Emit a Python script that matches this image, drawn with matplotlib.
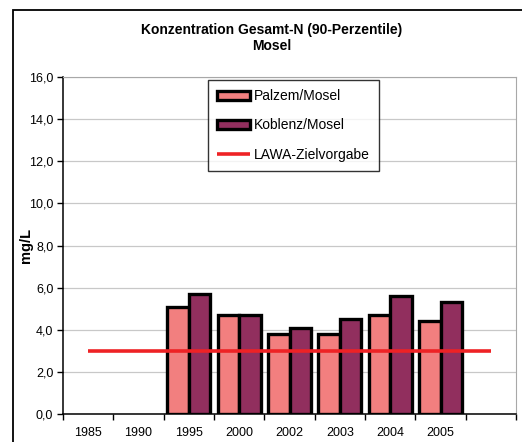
"""
Konzentration Gesamt-N (90-Perzentile), Mosel
"""
import numpy as np
import matplotlib
matplotlib.use("Agg")
from matplotlib import pyplot as plt, patches, ticker

plt.rcParams["font.family"] = ["Liberation Sans", "DejaVu Sans"]

YEARS = ["1985", "1990", "1995", "2000", "2002", "2003", "2004", "2005", ""]
PALZEM = [np.nan, np.nan, 5.1, 4.7, 3.8, 3.8, 4.7, 4.4, np.nan]
KOBLENZ = [np.nan, np.nan, 5.7, 4.7, 4.1, 4.5, 5.6, 5.3, np.nan]
LAWA = [3.0] * len(YEARS)

PALZEM_COLOR = "#F27F7F"
KOBLENZ_COLOR = "#912F5E"
LAWA_COLOR = "#EE2225"

fig = plt.figure(figsize=(5.22, 4.42), dpi=100)
ax = fig.add_axes([63/522, 1 - 414/442, 453/522, 337/442])

# Outer chart frame (cut off at right/bottom like the reference)
fig.patches.append(patches.Rectangle((13/522, -0.05), 1.2, 1.05 - 10/442,
                                     transform=fig.transFigure, fill=False,
                                     edgecolor="black", linewidth=1.3))

x = np.arange(len(YEARS))
w = 0.43
b1 = ax.bar(x - w/2, PALZEM, w, color=PALZEM_COLOR, edgecolor="black",
            linewidth=2.4, label="Palzem/Mosel", zorder=3)
b2 = ax.bar(x + w/2, KOBLENZ, w, color=KOBLENZ_COLOR, edgecolor="black",
            linewidth=2.4, label="Koblenz/Mosel", zorder=3)
l1, = ax.plot(x, LAWA, color=LAWA_COLOR, linewidth=2.6, label="LAWA-Zielvorgabe",
              zorder=4, solid_capstyle="butt")

ax.set_xlim(-0.5, len(YEARS) - 0.5)
ax.set_ylim(0, 16)
ax.set_yticks(np.arange(0, 17, 2))
ax.yaxis.set_major_formatter(ticker.FuncFormatter(lambda v, p: ("%.1f" % v).replace(".", ",")))
ax.set_xticks(x)
ax.set_xticklabels(YEARS)
ax.set_xticks(np.arange(-0.5, len(YEARS)), minor=True)
ax.tick_params(axis="x", which="major", length=0, labelsize=9, pad=9)
ax.tick_params(axis="x", which="minor", length=4, width=1, direction="out")
ax.tick_params(axis="y", length=4, width=1, labelsize=9, pad=3)
ax.grid(axis="y", color="#C8C8C8", linewidth=0.9, zorder=0)

for side in ["top", "right"]:
    ax.spines[side].set_color("#A8A8A8")
for side in ["left", "bottom"]:
    ax.spines[side].set_linewidth(1.1)

ax.set_ylabel("mg/L", fontsize=10.5, fontweight="bold")
ax.yaxis.set_label_coords(-30/453, 0.5)
fig.text(272/522, 1 - 38/442, "Konzentration Gesamt-N (90-Perzentile)\nMosel",
         ha="center", va="center", fontsize=10, fontweight="bold", linespacing=1.25)

leg = ax.legend([b1, b2, l1], ["Palzem/Mosel", "Koblenz/Mosel", "LAWA-Zielvorgabe"],
                loc="upper left", bbox_to_anchor=((208 - 63)/453, (414 - 80)/337),
                fontsize=10, frameon=True, fancybox=False, edgecolor="black",
                borderpad=0.65, labelspacing=1.1, handlelength=2.35, handleheight=0.6,
                handletextpad=0.3, borderaxespad=0)
leg.get_frame().set_linewidth(1.0)

fig.savefig("out.png", dpi=100)
